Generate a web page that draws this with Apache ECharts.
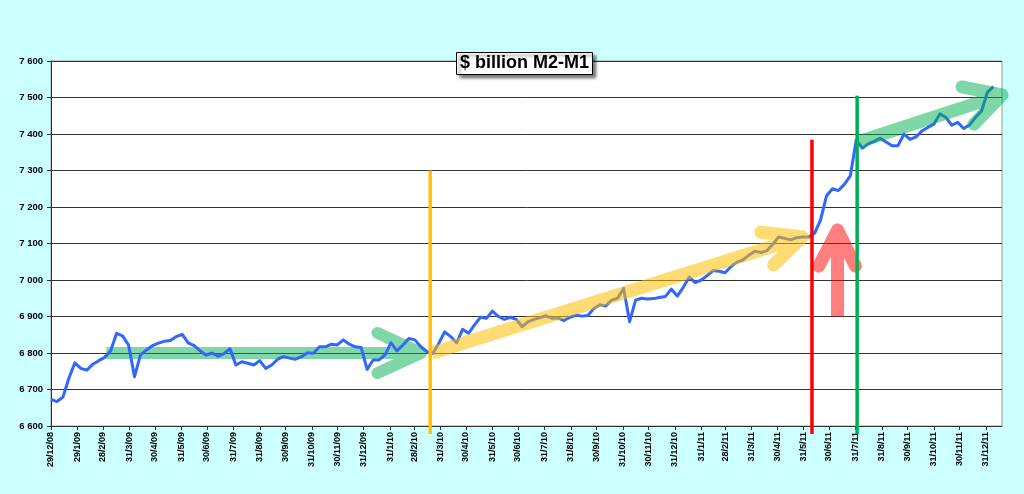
<!DOCTYPE html>
<html><head><meta charset="utf-8">
<script src="https://cdn.jsdelivr.net/npm/echarts@6/dist/echarts.min.js"></script>
<style>html,body{margin:0;padding:0;background:#ccffff;}#c{width:1024px;height:494px;}</style>
</head><body><div id="c"></div>
<script>
const titleText = '$ billion M2-M1';

const weekDates = [
'2008-12-29',
'2009-01-05','2009-01-12','2009-01-19','2009-01-26','2009-02-02','2009-02-09','2009-02-16','2009-02-23',
'2009-03-02','2009-03-09','2009-03-16','2009-03-23','2009-03-30','2009-04-06','2009-04-13','2009-04-20','2009-04-27',
'2009-05-04','2009-05-11','2009-05-18','2009-05-25','2009-06-01','2009-06-08','2009-06-15','2009-06-22','2009-06-29',
'2009-07-06','2009-07-13','2009-07-20','2009-07-27','2009-08-03','2009-08-10','2009-08-17','2009-08-24','2009-08-31',
'2009-09-07','2009-09-14','2009-09-21','2009-09-28','2009-10-05','2009-10-12','2009-10-19','2009-10-26',
'2009-11-02','2009-11-09','2009-11-16','2009-11-23','2009-11-30','2009-12-07','2009-12-14','2009-12-21','2009-12-28',
'2010-01-04','2010-01-11','2010-01-18','2010-01-25','2010-02-01','2010-02-08','2010-02-15','2010-02-22',
'2010-03-01','2010-03-08','2010-03-15','2010-03-22','2010-03-29','2010-04-05','2010-04-12','2010-04-19','2010-04-26',
'2010-05-03','2010-05-10','2010-05-17','2010-05-24','2010-05-31','2010-06-07','2010-06-14','2010-06-21','2010-06-28',
'2010-07-05','2010-07-12','2010-07-19','2010-07-26','2010-08-02','2010-08-09','2010-08-16','2010-08-23','2010-08-30',
'2010-09-06','2010-09-13','2010-09-20','2010-09-27','2010-10-04','2010-10-11','2010-10-18','2010-10-25',
'2010-11-01','2010-11-08','2010-11-15','2010-11-22','2010-11-29','2010-12-06','2010-12-13','2010-12-20','2010-12-27',
'2011-01-03','2011-01-10','2011-01-17','2011-01-24','2011-01-31','2011-02-07','2011-02-14','2011-02-21','2011-02-28',
'2011-03-07','2011-03-14','2011-03-21','2011-03-28','2011-04-04','2011-04-11','2011-04-18','2011-04-25',
'2011-05-02','2011-05-09','2011-05-16','2011-05-23','2011-05-30','2011-06-06','2011-06-13','2011-06-20','2011-06-27',
'2011-07-04','2011-07-11','2011-07-18','2011-07-25','2011-08-01','2011-08-08','2011-08-15','2011-08-22','2011-08-29',
'2011-09-05','2011-09-12','2011-09-19','2011-09-26','2011-10-03','2011-10-10','2011-10-17','2011-10-24','2011-10-31',
'2011-11-07','2011-11-14','2011-11-21','2011-11-28','2011-12-05','2011-12-12','2011-12-19','2011-12-26',
'2012-01-02','2012-01-09'
];

const m2m1 = [
6673,6667,6679,6731,6773,6758,6753,6769,6779,6788,
6806,6854,6847,6822,6735,6795,6808,6820,6827,6832,
6834,6845,6851,6828,6820,6806,6794,6800,6791,6798,
6812,6767,6776,6772,6767,6779,6758,6767,6783,6790,
6786,6783,6790,6801,6799,6817,6817,6824,6822,6836,
6824,6817,6815,6755,6781,6781,6795,6828,6806,6822,
6840,6836,6817,6804,6799,6826,6858,6845,6828,6865,
6854,6877,6898,6895,6915,6900,6892,6898,6892,6872,
6886,6892,6897,6902,6895,6896,6889,6898,6904,6901,
6903,6922,6932,6929,6945,6950,6977,6886,6945,6950,
6948,6949,6952,6955,6975,6956,6980,7008,6993,7000,
7012,7026,7024,7020,7037,7049,7055,7068,7079,7075,
7080,7098,7118,7114,7110,7116,7118,7118,7128,7164,
7230,7250,7245,7262,7285,7384,7361,7373,7380,7388,
7378,7368,7368,7400,7385,7392,7408,7418,7427,7455,
7446,7424,7432,7415,7425,7446,7463,7515,7530
];

const tickDates = [
'2008-12-29','2009-01-29','2009-02-28','2009-03-31','2009-04-30','2009-05-31','2009-06-30','2009-07-31',
'2009-08-31','2009-09-30','2009-10-31','2009-11-30','2009-12-31','2010-01-31','2010-02-28','2010-03-31',
'2010-04-30','2010-05-31','2010-06-30','2010-07-31','2010-08-31','2010-09-30','2010-10-31','2010-11-30',
'2010-12-31','2011-01-31','2011-02-28','2011-03-31','2011-04-30','2011-05-31','2011-06-30','2011-07-31',
'2011-08-31','2011-09-30','2011-10-31','2011-11-30','2011-12-31'
];

const yMin = 6600, yMax = 7600, yStep = 100;
const xMin = '2008-12-29', xMax = '2012-01-19';
const x2Min = '2008-11-19', x2Max = '2012-02-08';

// annotation shapes in data coordinates (date, value)
const greenFlatArrow = [['2009-03-04',6800],['2010-03-08',6800],['2010-01-16',6855],['2010-03-08',6800],['2010-01-16',6745],['2010-03-08',6800]];
const yellowArrow = [['2010-03-21',6800],['2011-05-30',7118],['2011-04-11',7131],['2011-05-30',7118],['2011-04-26',7041],['2011-05-30',7118]];
const redUpArrow = [['2011-07-10',6900],['2011-07-10',7137],['2011-06-18',7038],['2011-07-10',7137],['2011-07-31',7038],['2011-07-10',7137]];
const greenUpArrow = [['2011-08-03',7378],['2012-01-19',7507],['2011-12-03',7529],['2012-01-19',7507],['2011-12-17',7427],['2012-01-19',7507]];
const orangeLine = [['2010-03-19',7300],['2010-03-19',6578]];
const redLine = [['2011-06-10',7384],['2011-06-10',6578]];
const greenLine = [['2011-08-02',7505],['2011-08-02',6578]];

const FONT = '"Liberation Sans", Arial, sans-serif';
const chart = echarts.init(document.getElementById('c'), null, {renderer:'canvas'});

function ts(s){ const p = s.split('-').map(Number); return Date.UTC(p[0], p[1]-1, p[2]); }
function fmtDate(v){
  const d = new Date(v);
  return d.getUTCDate() + '/' + (d.getUTCMonth()+1) + '/' + String(d.getUTCFullYear()).slice(2);
}
function fmtNum(v){ return String(v).replace(/\B(?=(\d{3})+(?!\d))/g, ' '); }
function pts(arr){ return arr.map(p => [ts(p[0]), p[1]]); }

function annot(data, color, width, z, cap){
  return {type:'line', xAxisIndex:1, yAxisIndex:1, data:pts(data), symbol:'none', silent:true, z:z,
    lineStyle:{color:color, width:width, cap:cap||'butt', join:'round'}, emphasis:{disabled:true}};
}

const tickTs = tickDates.map(ts);
// px per day in main grid
const DAY = 86400000;
const nDays = (ts(xMax)-ts(xMin))/DAY;
const pxDay = (1024-51-22)/nDays;
const padL = (ts(xMin)-ts(x2Min))/DAY*pxDay, padR = (ts(x2Max)-ts(xMax))/DAY*pxDay;

chart.setOption({
  animation:false,
  backgroundColor:'#ccffff',
  title:{
    text:titleText, left:456, top:52, padding:[2,4,2,4],
    backgroundColor:'#ffffff', borderColor:'#000', borderWidth:1,
    shadowColor:'rgba(0,0,0,0.55)', shadowBlur:3, shadowOffsetX:3, shadowOffsetY:3,
    textStyle:{fontFamily:FONT, fontWeight:'bold', fontSize:18, lineHeight:19, color:'#000'}
  },
  grid:[
    {left:51, right:22, top:61, bottom:68, show:true, backgroundColor:'#fff', borderColor:'#999', borderWidth:1},
    {left:51-padL, right:22-padR, top:61-36.5, bottom:68-36.5, show:false}
  ],
  xAxis:[
    {type:'value', gridIndex:0, min:ts(xMin), max:ts(xMax),
     axisLine:{show:true, onZero:false, lineStyle:{color:'#333', width:1}},
     axisTick:{show:true, customValues:tickTs, length:4, lineStyle:{color:'#333'}},
     axisLabel:{customValues:tickTs, rotate:90, margin:6, formatter:fmtDate,
       fontFamily:FONT, fontWeight:'bold', fontSize:9, color:'#000'},
     splitLine:{show:false}},
    {type:'value', gridIndex:1, min:ts(x2Min), max:ts(x2Max), show:false, splitLine:{show:false}}
  ],
  yAxis:[
    {type:'value', gridIndex:0, min:yMin, max:yMax, interval:yStep,
     axisLine:{show:true, onZero:false, lineStyle:{color:'#333'}},
     axisTick:{show:true, length:4, lineStyle:{color:'#333'}},
     axisLabel:{formatter:fmtNum, margin:8, fontFamily:FONT, fontWeight:'bold', fontSize:9.5, color:'#000'},
     splitLine:{show:true, lineStyle:{color:'#333', width:1}}},
    {type:'value', gridIndex:1, min:6500, max:7700, show:false, splitLine:{show:false}}
  ],
  series:[
    annot(greenFlatArrow, 'rgba(0,176,80,0.5)', 12, 1),
    {type:'line', name:'M2-M1', xAxisIndex:0, yAxisIndex:0, z:2, symbol:'none', silent:true,
     data: weekDates.map((d,i)=>[ts(d), m2m1[i]]),
     lineStyle:{color:'#3366ff', width:3, join:'round'}},
    annot(yellowArrow, 'rgba(255,192,0,0.55)', 13, 3),
    annot(greenUpArrow, 'rgba(0,176,80,0.5)', 13, 3),
    annot(redUpArrow, 'rgba(255,0,0,0.5)', 13, 3),
    annot(orangeLine, '#ffc000', 3.5, 4),
    annot(redLine, '#ff0000', 3.5, 4),
    annot(greenLine, '#00b050', 3.5, 4)
  ]
});
</script></body></html>
